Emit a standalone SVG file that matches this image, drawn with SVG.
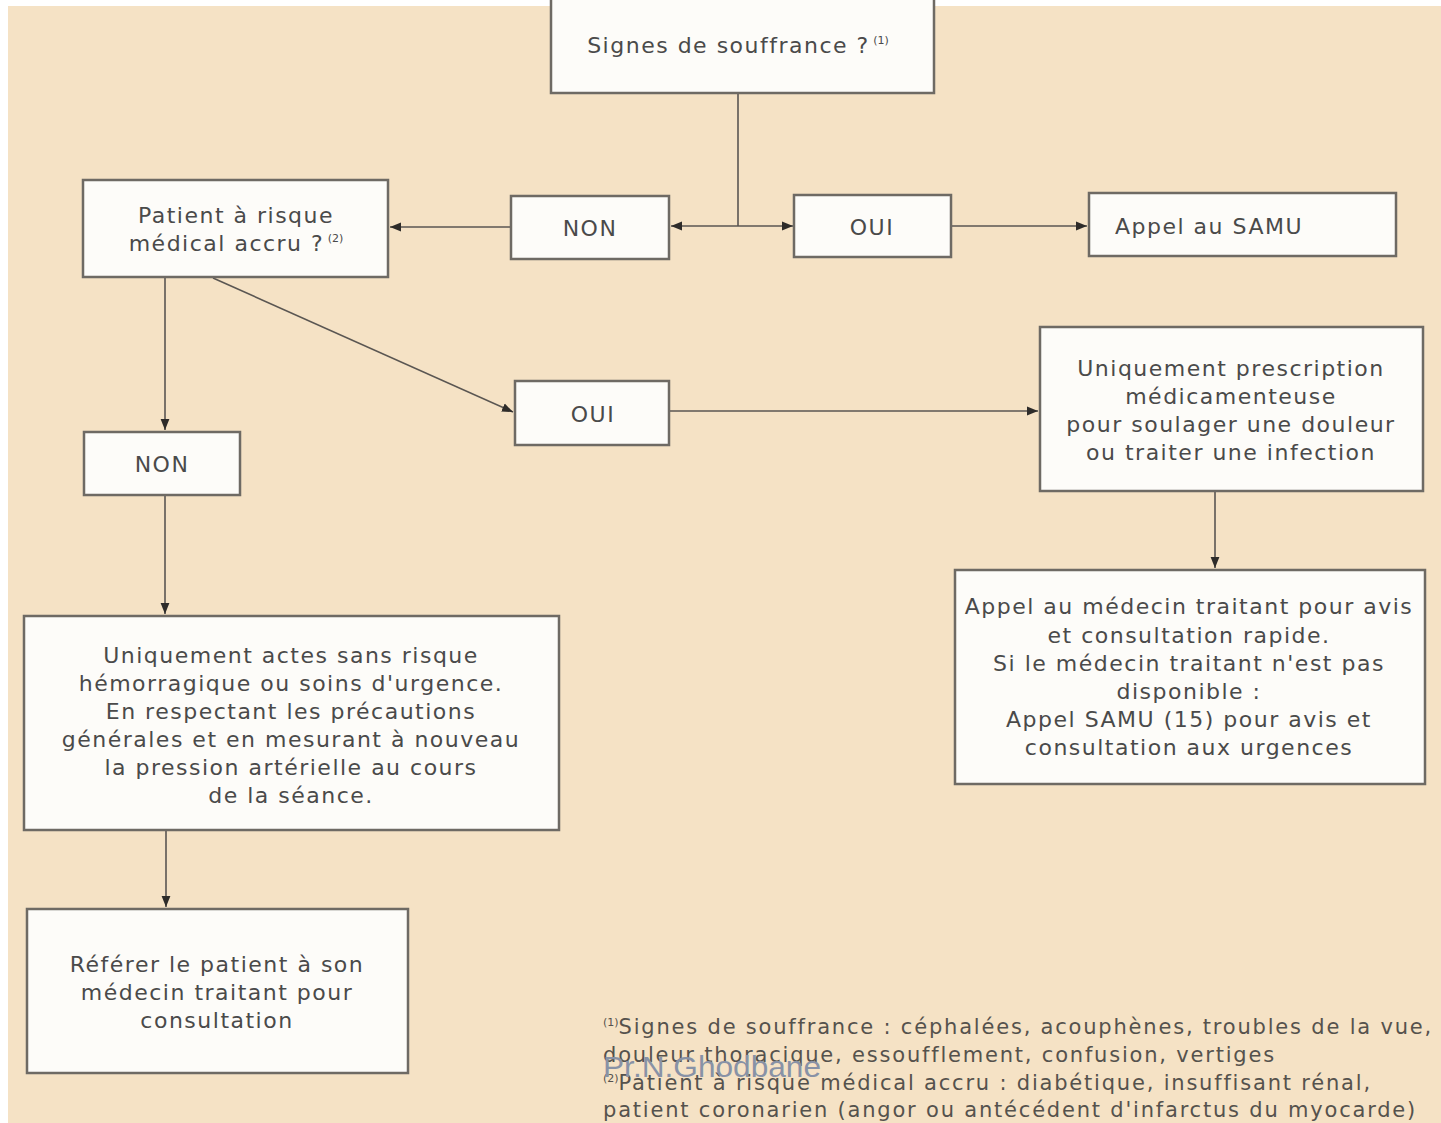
<svg xmlns="http://www.w3.org/2000/svg" width="1441" height="1123" viewBox="0 0 1441 1123">
<defs>
<marker id="arr" viewBox="0 0 10 10" refX="10" refY="5" markerWidth="11" markerHeight="11" markerUnits="userSpaceOnUse" orient="auto">
<path d="M0,1 L10,5 L0,9 Z" fill="#2e2c2a"/>
</marker>
<style>
.box{fill:#fdfcf9;stroke:#6e6a64;stroke-width:2.5}
.t{font-family:"DejaVu Sans","Liberation Sans",sans-serif;font-size:22px;letter-spacing:1.5px;fill:#4a4a4a;text-anchor:middle}
.tl{font-family:"DejaVu Sans","Liberation Sans",sans-serif;font-size:22px;letter-spacing:1.5px;fill:#4a4a4a}
.sup{font-size:11px;letter-spacing:0}
.c{fill:none;stroke:#5a5652;stroke-width:1.6}
.fn{font-family:"DejaVu Sans","Liberation Sans",sans-serif;font-size:21px;letter-spacing:1.8px;fill:#55524d}
</style>
</defs>
<rect x="0" y="0" width="1441" height="1123" fill="#ffffff"/>
<rect x="8" y="6" width="1433" height="1117" fill="#f5e2c5"/>

<g id="connectors">
<path class="c" d="M738,93 V226"/>
<path class="c" d="M738,226 H671" marker-end="url(#arr)"/>
<path class="c" d="M738,226 H793" marker-end="url(#arr)"/>
<path class="c" d="M511,227 H390" marker-end="url(#arr)"/>
<path class="c" d="M951,226 H1087" marker-end="url(#arr)"/>
<path class="c" d="M165,278 V430" marker-end="url(#arr)"/>
<path class="c" d="M213,278 L513,412" marker-end="url(#arr)"/>
<path class="c" d="M669,411 H1038" marker-end="url(#arr)"/>
<path class="c" d="M1215,491 V568" marker-end="url(#arr)"/>
<path class="c" d="M165,495 V614" marker-end="url(#arr)"/>
<path class="c" d="M166,830 V907" marker-end="url(#arr)"/>
</g>

<g id="signes">
<rect class="box" x="551" y="-4" width="383" height="97"/>
<text class="t" x="738" y="53">Signes de souffrance ?<tspan class="sup" dy="-9"> (1)</tspan></text>
</g>
<g id="patient-risque">
<rect class="box" x="83" y="180" width="305" height="97"/>
<text class="t" x="236" y="223">Patient à risque</text>
<text class="t" x="236" y="251">médical accru ?<tspan class="sup" dy="-9"> (2)</tspan></text>
</g>
<g id="non-top">
<rect class="box" x="511" y="196" width="158" height="63"/>
<text class="t" x="590" y="236">NON</text>
</g>
<g id="oui-top">
<rect class="box" x="794" y="195" width="157" height="62"/>
<text class="t" x="872" y="235">OUI</text>
</g>
<g id="appel-samu">
<rect class="box" x="1089" y="193" width="307" height="63"/>
<text class="tl" x="1115" y="234">Appel au SAMU</text>
</g>
<g id="oui-mid">
<rect class="box" x="515" y="381" width="154" height="64"/>
<text class="t" x="593" y="422">OUI</text>
</g>
<g id="non-left">
<rect class="box" x="84" y="432" width="156" height="63"/>
<text class="t" x="162" y="472">NON</text>
</g>
<g id="prescription">
<rect class="box" x="1040" y="327" width="383" height="164"/>
<text class="t" x="1231" y="376">Uniquement prescription</text>
<text class="t" x="1231" y="404">médicamenteuse</text>
<text class="t" x="1231" y="432">pour soulager une douleur</text>
<text class="t" x="1231" y="460">ou traiter une infection</text>
</g>
<g id="appel-medecin">
<rect class="box" x="955" y="570" width="470" height="214"/>
<text class="t" x="1189" y="614">Appel au médecin traitant pour avis</text>
<text class="t" x="1189" y="643">et consultation rapide.</text>
<text class="t" x="1189" y="671">Si le médecin traitant n'est pas</text>
<text class="t" x="1189" y="699">disponible :</text>
<text class="t" x="1189" y="727">Appel SAMU (15) pour avis et</text>
<text class="t" x="1189" y="755">consultation aux urgences</text>
</g>
<g id="actes">
<rect class="box" x="24" y="616" width="535" height="214"/>
<text class="t" x="291" y="663">Uniquement actes sans risque</text>
<text class="t" x="291" y="691">hémorragique ou soins d'urgence.</text>
<text class="t" x="291" y="719">En respectant les précautions</text>
<text class="t" x="291" y="747">générales et en mesurant à nouveau</text>
<text class="t" x="291" y="775">la pression artérielle au cours</text>
<text class="t" x="291" y="803">de la séance.</text>
</g>
<g id="referer">
<rect class="box" x="27" y="909" width="381" height="164"/>
<text class="t" x="217" y="972">Référer le patient à son</text>
<text class="t" x="217" y="1000">médecin traitant pour</text>
<text class="t" x="217" y="1028">consultation</text>
</g>

<g id="footnotes">
<text class="fn" x="603" y="1034"><tspan class="sup" dy="-8">(1)</tspan><tspan dy="8">Signes de souffrance : céphalées, acouphènes, troubles de la vue,</tspan></text>
<text class="fn" x="603" y="1062">douleur thoracique, essoufflement, confusion, vertiges</text>
<text class="fn" x="603" y="1090"><tspan class="sup" dy="-8">(2)</tspan><tspan dy="8">Patient à risque médical accru : diabétique, insuffisant rénal,</tspan></text>
<text class="fn" x="603" y="1117">patient coronarien (angor ou antécédent d'infarctus du myocarde)</text>
<text x="603" y="1077" font-family="'Liberation Sans',Arial,sans-serif" font-size="30" fill="#8892a6" textLength="218" lengthAdjust="spacingAndGlyphs">Pr.N.Ghodbane</text>
</g>
</svg>
